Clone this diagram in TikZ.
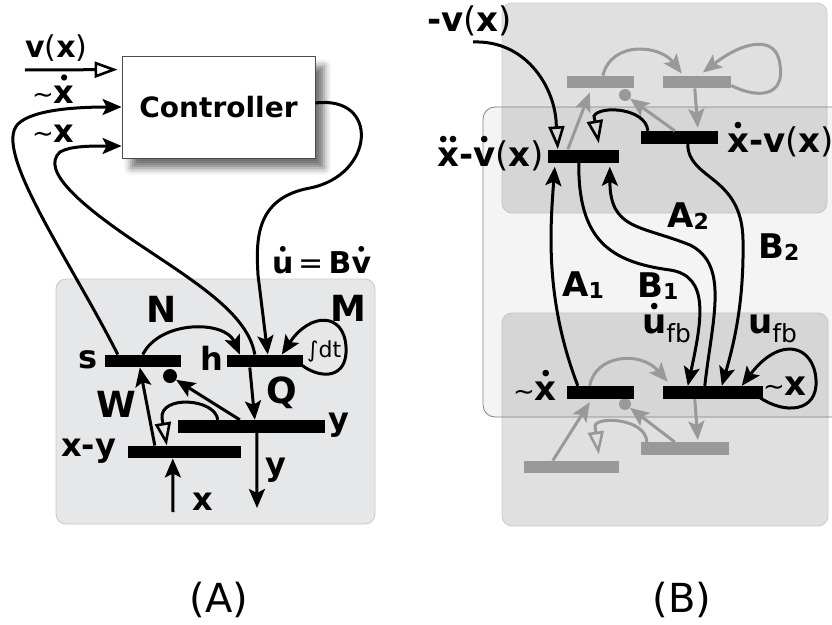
\documentclass[tikz,border=0pt]{standalone}
\usepackage{fontspec}
\setmainfont{DejaVu Sans}
\usetikzlibrary{arrows.meta,shadows.blur}
\definecolor{gcol}{RGB}{153,153,156}
\definecolor{boxA}{RGB}{230,231,232}
\definecolor{boxAb}{RGB}{199,200,202}
\newsavebox\dabox
\newcommand\dacc[1]{{\sbox\dabox{#1}\makebox[0pt][l]{\makebox[\wd\dabox]{\raisebox{\dimexpr\ht\dabox+0.03em\relax}{\scalebox{0.55}{•}}}}\usebox\dabox}}
\newcommand\ddacc[1]{{\sbox\dabox{#1}\makebox[0pt][l]{\makebox[\wd\dabox]{\raisebox{\dimexpr\ht\dabox+0.03em\relax}{\scalebox{0.55}{•\kern-0.12em•}}}}\usebox\dabox}}
\newcommand\pr[1]{{\mdseries #1}}
\newcommand\tld{{\mdseries\fontsize{26}{26}\selectfont ∼}}
\newcommand\sub[1]{\raisebox{-2pt}{\fontsize{22}{22}\selectfont #1}}
\newcommand\fb{\raisebox{-9pt}{\mdseries\fontsize{25}{25}\selectfont fb}}
\begin{document}
\begin{tikzpicture}[x=1pt,y=-1pt,
  ln/.style={line width=3pt,draw=black},
  gl/.style={line width=3pt,draw=gcol},
  fa/.style={-{Stealth[length=19pt,width=16pt,inset=4pt]}},
  ha/.style={-{Triangle[open,length=23pt,width=16pt,line width=2.6pt]}},
  bar/.style={rectangle,fill=black,inner sep=0pt,minimum height=12.5pt},
  gbar/.style={bar,fill=gcol},
  dotn/.style={circle,fill=black,inner sep=0pt,minimum size=14pt},
  lab/.style={inner sep=0pt,anchor=base west,font=\bfseries\fontsize{32}{36}\selectfont},
  labL/.style={inner sep=0pt,anchor=base west,font=\bfseries\fontsize{36}{40}\selectfont},
  labB/.style={inner sep=0pt,anchor=base west,font=\bfseries\fontsize{34}{38}\selectfont},
  captxt/.style={inner sep=0pt,anchor=base,font=\fontsize{40}{44}\selectfont}]
\useasboundingbox (0,0) rectangle (832,624);
% ---------------- Panel A ----------------
\path[fill=boxA,draw=boxAb,line width=0.8pt,rounded corners=10pt] (56,279) rectangle (375,524);
\node[rectangle,draw=black!70,line width=0.8pt,fill=white,minimum width=193pt,minimum height=102pt,
  blur shadow={shadow xshift=9pt,shadow yshift=-10pt,shadow blur radius=7pt,shadow opacity=55},
  font=\bfseries\fontsize{28}{32}\selectfont] (ctrl) at (218.5,107) {Controller};
\node[bar,minimum width=76pt] (sbar) at (143,361) {};
\node[bar,minimum width=76pt] (hbar) at (265,361) {};
\node[bar,minimum width=147pt,minimum height=13pt] (ybar) at (251.5,426.5) {};
\node[bar,minimum width=113pt] (xybar) at (184.5,452) {};
\node[dotn] (dotA) at (170,376) {};
\coordinate (vin) at (25,70);
\coordinate (xin) at (173,512);
\coordinate (yout) at (257,508);
\draw[ln,ha] (vin) -- ([xshift=-4pt,yshift=-14pt]ctrl.north west);
\draw[ln,fa] ([xshift=13pt]sbar.north west) .. controls (70,260) and (-8,150) .. (18,124) .. controls (33,109) and (80,107) .. (ctrl.west);
\draw[ln,fa] ([xshift=28pt]hbar.north west) .. controls (248,315) and (200,285) .. (140,245) .. controls (80,205) and (40,170) .. (60,152) .. controls (70,146) and (90,146) .. ([yshift=-39pt]ctrl.west);
\draw[ln,fa] ([yshift=4pt]ctrl.east) .. controls (380,95) and (375,175) .. (310,188) .. controls (255,198) and (256,240) .. (258,275) -- ([xshift=41pt]hbar.north west);
\draw[ln,fa] ([xshift=38pt]sbar.north west) .. controls (160,320) and (225,320) .. ([xshift=13pt]hbar.north west);
\draw[ln,fa] ([xshift=23pt]hbar.south west) -- ([xshift=77pt]ybar.north west);
\draw[ln,fa] ([xshift=-1pt,yshift=2pt]hbar.south east) .. controls (322,380) and (348,378) .. (346,347) .. controls (344,312) and (310,312) .. ([xshift=55pt]hbar.north west);
\draw[ln,fa] ([xshift=62pt]ybar.north west) -- (dotA);
\draw[ln,fa] ([xshift=27pt]xybar.north west) -- ([xshift=35pt]sbar.south west);
\draw[ln,ha] ([xshift=40pt]ybar.north west) .. controls (215,398) and (160,395) .. (162,418) -- ([xshift=39pt]xybar.north west);
\draw[ln,fa] (xin) -- ([xshift=45pt]xybar.south west);
\draw[ln,fa] ([xshift=79pt]ybar.south west) -- (yout);
\node[lab,font=\bfseries\fontsize{30}{34}\selectfont] (lvx) at (25,57) {v\pr{(}x\pr{)}};
\node[lab] (lxd) at (32,103) {\tld\dacc{x}};
\node[lab] (lx) at (32,142) {\tld x};
\node[lab,font=\bfseries\fontsize{30}{34}\selectfont] (lu) at (272,273) {\dacc{u}\,\pr{=}\,B\dacc{v}};
\node[lab] (ls) at (78,368) {s};
\node[labL] (lN) at (146,322) {N};
\node[lab] (lh) at (200,370) {h};
\node[labL] (lM) at (330,321) {M};
\node[inner sep=0pt,anchor=base west,font=\fontsize{22}{24}\selectfont] (lint) at (307,357) {∫dt};
\node[labL] (lQ) at (266,403) {Q};
\node[labL] (lW) at (96,417) {W};
\node[lab] (ly1) at (328,430) {y};
\node[lab] (lxy) at (61,456) {x-y};
\node[lab] (ly2) at (265,475) {y};
\node[lab] (lxx) at (192,510) {x};
\node[captxt] (capA) at (219,612) {(A)};
% ---------------- Panel B ----------------
\path[fill=black,fill opacity=0.12,draw=black!20,line width=0.8pt,rounded corners=10pt] (502,3) rectangle (827,213);
\path[fill=black,fill opacity=0.12,draw=black!20,line width=0.8pt,rounded corners=10pt] (502,313) rectangle (828,526);
\path[fill=black,fill opacity=0.045,draw=black!50,line width=0.8pt,rounded corners=12pt] (483,107) rectangle (845,417);
\node[gbar,minimum width=67pt] (gb1) at (600.5,82) {};
\node[gbar,minimum width=68pt] (gb2) at (697,82) {};
\node[gbar,minimum width=95pt] (gb3) at (571.5,467) {};
\node[gbar,minimum width=88pt] (gb4) at (685,448.5) {};
\node[dotn,fill=gcol,minimum size=12pt] (gd1) at (625,95) {};
\node[dotn,fill=gcol,minimum size=12pt] (gd2) at (625,404) {};
\node[bar,minimum width=71pt,minimum height=13pt] (bdd) at (583.5,156) {};
\node[bar,minimum width=77pt,minimum height=13pt] (bdot) at (679.5,137.5) {};
\node[bar,minimum width=67pt,minimum height=13pt] (bxd) at (600.5,392.5) {};
\node[bar,minimum width=100pt,minimum height=13pt] (bx) at (713,392.5) {};
\coordinate (vin2) at (473,42);
% gray connectors
\draw[gl,fa] ([xshift=36pt]gb1.north west) .. controls (612,40) and (660,45) .. ([xshift=19pt,yshift=2pt]gb2.north west);
\draw[gl,fa] ([yshift=3pt]gb2.south east) .. controls (760,100) and (785,95) .. (780,65) .. controls (777,35) and (745,40) .. ([xshift=40pt,yshift=3pt]gb2.north west);
\draw[gl,fa] ([xshift=34pt]bdot.north west) -- (gd1);
\draw[gl,fa] ([xshift=32pt]gb2.south west) -- ([xshift=57pt,yshift=3pt]bdot.north west);
\draw[gl,fa] ([xshift=20pt]bdd.north west) -- ([xshift=23pt,yshift=-4pt]gb1.south west);
\draw[gl,fa] ([xshift=23pt]bxd.north west) .. controls (595,355) and (640,350) .. ([xshift=5pt,yshift=4pt]bx.north west);
\draw[gl,fa] ([xshift=29pt]gb3.north west) -- ([xshift=23pt,yshift=-3pt]bxd.south west);
\draw[gl,fa] ([xshift=34pt]gb4.north west) -- (gd2);
\draw[gl,ha] ([xshift=6pt]gb4.north west) .. controls (646,418) and (596,416) .. (595,426) -- ([xshift=75pt,yshift=6pt]gb3.north west);
\draw[gl,fa] ([xshift=32pt]bx.south west) -- ([xshift=57pt,yshift=2pt]gb4.north west);
% black connectors
\draw[ln,ha] (vin2) .. controls (525,40) and (553,85) .. (556,120) -- ([xshift=10pt]bdd.north west);
\draw[ln,ha] ([xshift=7pt]bdot.north west) .. controls (646,108) and (600,105) .. (594,116) -- ([xshift=51pt,yshift=6pt]bdd.north west);
\draw[ln,fa] ([xshift=11pt]bxd.north west) .. controls (545,300) and (550,230) .. ([xshift=7pt,yshift=-4pt]bdd.south west);
\draw[ln,fa] ([xshift=31pt]bdd.south west) .. controls (578,240) and (610,262) .. (670,270) .. controls (710,276) and (702,320) .. ([xshift=25pt]bx.north west);
\draw[ln,fa] ([xshift=42pt]bx.north west) .. controls (712,320) and (730,265) .. (690,245) .. controls (640,225) and (610,230) .. ([xshift=62pt,yshift=-4pt]bdd.south west);
\draw[ln,fa] ([xshift=47pt]bdot.south west) .. controls (688,180) and (742,175) .. (743,240) .. controls (744,300) and (735,340) .. ([xshift=59pt]bx.north west);
\draw[ln,fa] ([xshift=-4pt,yshift=2pt]bx.south east) .. controls (785,415) and (818,412) .. (816,380) .. controls (814,345) and (780,335) .. ([xshift=79pt]bx.north west);
% labels B
\node[labB] (lmv) at (427,31) {-v\pr{(}x\pr{)}};
\node[labB] (lxdd) at (437,166) {\ddacc{x}-\dacc{v}\pr{(}x\pr{)}};
\node[labB] (lxdv) at (727,152) {\dacc{x}-v\pr{(}x\pr{)}};
\node[labB] (lA1) at (562,296) {A\sub{1}};
\node[labB] (lB1) at (637,297) {B\sub{1}};
\node[labB] (lA2) at (667,227) {A\sub{2}};
\node[labB] (lB2) at (758,258) {B\sub{2}};
\node[labB] (lufd) at (642,333) {\dacc{u}\fb};
\node[labB] (luf) at (748,333) {u\fb};
\node[labB] (lbxd) at (513,400) {\tld\dacc{x}};
\node[labB] (lbx) at (763,395) {\tld x};
\node[captxt] (capB) at (682,612) {(B)};
\end{tikzpicture}
\end{document}
